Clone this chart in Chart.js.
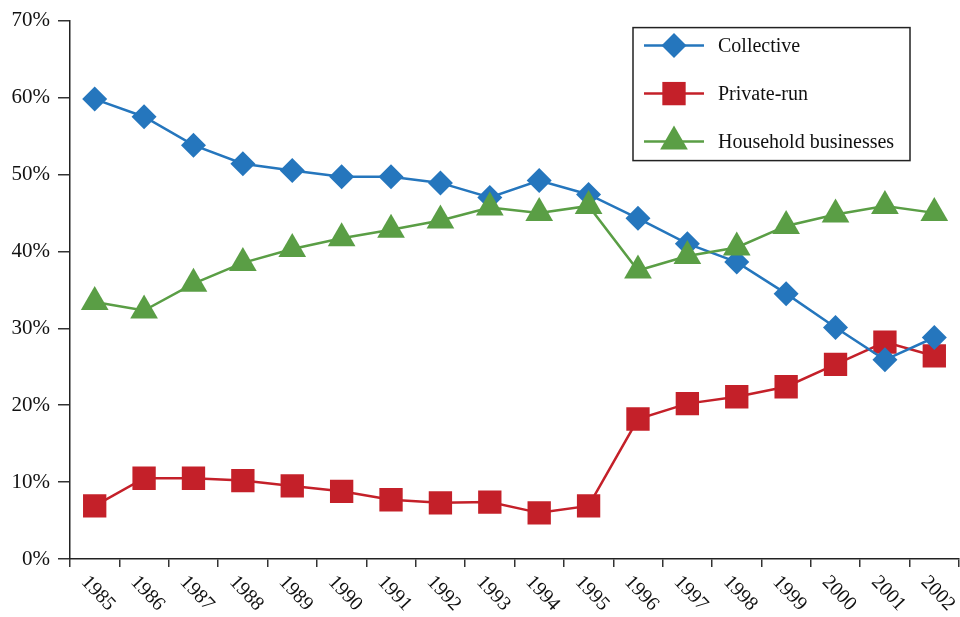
<!DOCTYPE html>
<html>
<head>
<meta charset="utf-8">
<script src="https://cdn.jsdelivr.net/npm/chart.js@4.4.0/dist/chart.umd.min.js"></script>
<style>
  body { margin: 0; background: #fff; }
</style>
</head>
<body>
<canvas id="myChart" width="960" height="617"></canvas>
<script>
// shares of output by ownership type, percent
const years = ['1985', '1986', '1987', '1988', '1989', '1990', '1991', '1992', '1993',
               '1994', '1995', '1996', '1997', '1998', '1999', '2000', '2001', '2002'];
const collective = [59.8, 57.5, 53.8, 51.4, 50.5, 49.7, 49.7, 48.9, 47.0,
                    49.2, 47.4, 44.3, 41.0, 38.6, 34.5, 30.1, 25.9, 28.8];
const privateRun = [6.9, 10.5, 10.5, 10.2, 9.5, 8.8, 7.7, 7.3, 7.4,
                    6.0, 6.9, 18.2, 20.2, 21.1, 22.4, 25.3, 28.2, 26.4];
const household = [33.4, 32.3, 35.8, 38.5, 40.3, 41.7, 42.8, 44.0, 45.7,
                   45.0, 45.9, 37.5, 39.4, 40.5, 43.3, 44.8, 45.9, 45.0];
const yMin = 0, yMax = 70, yStep = 10;

const serif = '"Liberation Serif", "Times New Roman", serif';

// x labels slant the other way (clockwise), chart.js only rotates ccw
const slantLabels = {
  id: 'slantLabels',
  afterDraw(chart) {
    const sx = chart.scales.x;
    const ctx = chart.ctx;
    ctx.save();
    ctx.font = '20px ' + serif;
    ctx.fillStyle = '#111';
    ctx.textAlign = 'left';
    ctx.textBaseline = 'top';
    years.forEach((lab, i) => {
      const x = sx.getPixelForValue(i);
      ctx.save();
      ctx.translate(x - 3, sx.top + 13);
      ctx.rotate(Math.PI * 0.26);
      ctx.fillText(lab, 0, 0);
      ctx.restore();
    });
    ctx.restore();
  }
};

// boxed legend with line + marker samples
const boxLegend = {
  id: 'boxLegend',
  afterDraw(chart) {
    const ctx = chart.ctx;
    const area = chart.chartArea;
    const left = area.right - 326, top = area.top + 7;
    ctx.save();
    ctx.fillStyle = '#fff';
    ctx.fillRect(left, top, 277, 133);
    ctx.strokeStyle = '#222';
    ctx.lineWidth = 1.5;
    ctx.strokeRect(left, top, 277, 133);
    chart.data.datasets.forEach((ds, row) => {
      const y = top + 18 + row * 48;
      ctx.strokeStyle = ds.borderColor;
      ctx.lineWidth = ds.borderWidth;
      ctx.beginPath();
      ctx.moveTo(left + 11, y);
      ctx.lineTo(left + 71, y);
      ctx.stroke();
      ctx.fillStyle = ds.pointBackgroundColor;
      Chart.helpers.drawPoint(ctx, { pointStyle: ds.pointStyle, radius: ds.pointRadius, borderWidth: 0, rotation: 0 }, left + 41, y);
      ctx.fillStyle = '#111';
      ctx.font = '20px ' + serif;
      ctx.textAlign = 'left';
      ctx.textBaseline = 'middle';
      ctx.fillText(ds.label, left + 85, y + 1);
    });
    ctx.restore();
  }
};

const ctx = document.getElementById('myChart');

new Chart(ctx, {
  type: 'line',
  data: {
    labels: years,
    datasets: [{
      label: 'Collective',
      data: collective,
      borderColor: '#2576BD',
      backgroundColor: '#2576BD',
      pointBackgroundColor: '#2576BD',
      pointBorderWidth: 0,
      pointStyle: 'rectRot',
      pointRadius: 12.5,
      borderWidth: 2.5,
      tension: 0,
      order: 2
    }, {
      label: 'Private-run',
      data: privateRun,
      borderColor: '#C42029',
      backgroundColor: '#C42029',
      pointBackgroundColor: '#C42029',
      pointBorderWidth: 0,
      pointStyle: 'rect',
      pointRadius: 16.5,
      borderWidth: 2.5,
      tension: 0,
      order: 3
    }, {
      label: 'Household businesses',
      data: household,
      borderColor: '#5A9E45',
      backgroundColor: '#5A9E45',
      pointBackgroundColor: '#5A9E45',
      pointBorderWidth: 0,
      pointStyle: 'triangle',
      pointRadius: 16,
      borderWidth: 2.5,
      tension: 0,
      order: 1
    }]
  },
  options: {
    responsive: false,
    animation: false,
    layout: { autoPadding: false, padding: { top: 19, right: 1, left: 0, bottom: 0 } },
    plugins: {
      legend: { display: false },
      tooltip: { enabled: false }
    },
    scales: {
      x: {
        type: 'category',
        offset: true,
        grid: { offset: true, drawOnChartArea: false, drawTicks: true, tickLength: 8, color: '#333', lineWidth: 1.5 },
        border: { color: '#222', width: 1.5 },
        ticks: { display: false },
        afterFit(s) { s.height = 58; }
      },
      y: {
        min: yMin,
        max: yMax,
        grid: { drawOnChartArea: false, tickLength: 12, color: '#333', lineWidth: 1.5 },
        border: { color: '#222', width: 1.5 },
        ticks: {
          stepSize: yStep,
          padding: 8,
          color: '#111',
          font: { family: serif, size: 21 },
          callback: v => v + '%'
        },
        afterFit(s) { s.width = 70; }
      }
    }
  },
  plugins: [slantLabels, boxLegend]
});
</script>
</body>
</html>
